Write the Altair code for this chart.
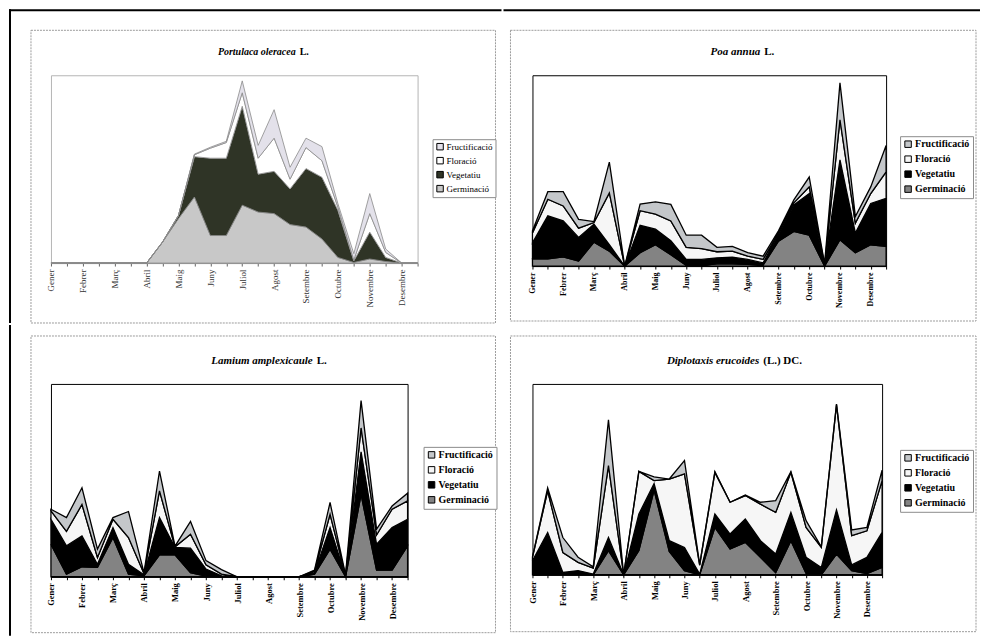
import altair as alt
import pandas as pd

months = ["Gener", "Febrer", "Març", "Abril", "Maig", "Juny", "Juliol",
          "Agost", "Setembre", "Octubre", "Novembre", "Desembre"]
phases_legend = ["Fructificació", "Floració", "Vegetatiu", "Germinació"]
phases_stack = ["Germinació", "Vegetatiu", "Floració", "Fructificació"]

# Portulaca oleracea L.
port_germ = [0, 0, 0, 0, 0, 0, 0, 6.7, 14.2, 21.1, 8.8, 8.8, 18.5, 16.3, 15.8, 12.3, 11.5, 7.7, 1.8, 0.2, 1.3, 0.5, 0, 0]
port_veg = [0, 0, 0, 0, 0, 0, 0, 0, 1.0, 12.9, 24.7, 24.7, 31.6, 12.1, 13.5, 11.4, 18.7, 19.7, 15.1, 0.5, 8.6, 1.3, 0, 0]
port_flo = [0, 0, 0, 0, 0, 0, 0, 0, 0, 0.6, 3.2, 5.0, 4.3, 5.1, 10.6, 3.1, 6.7, 5.3, 1.0, 0.3, 5.9, 1.6, 0, 0]
port_fru = [0, 0, 0, 0, 0, 0, 0, 0, 0, 0.2, 0.3, 0.4, 3.8, 4.1, 9.1, 3.8, 3.0, 4.5, 1.1, 2.0, 6.4, 1.1, 0, 0]

# Poa annua L.
poa_germ = [2.3, 2.3, 2.9, 1.6, 7.5, 4.7, 0, 4.2, 6.7, 3.6, 0.2, 0.2, 0.7, 0.7, 0.5, 0.3, 7.8, 10.9, 9.7, 0, 8.3, 4.2, 6.7, 6.2]
poa_veg = [5.0, 13.5, 11.3, 7.4, 5.7, 2.0, 0, 8.6, 4.9, 4.4, 1.9, 1.9, 1.9, 2.1, 1.6, 0.7, 2.1, 8.3, 13.1, 0.3, 25.1, 6.2, 13.0, 15.1]
poa_flo = [3.1, 5.2, 4.7, 2.9, 0.5, 16.3, 0, 4.6, 4.7, 6.2, 3.8, 3.4, 1.9, 1.9, 1.0, 1.1, 0.5, 0.7, 2.1, 0.2, 12.6, 3.1, 3.1, 8.3]
poa_fru = [0.7, 2.4, 4.5, 2.8, 0.3, 9.7, 0, 2.1, 3.9, 5.2, 3.8, 4.2, 1.4, 1.5, 1.1, 1.0, 0.7, 0.9, 3.1, 0.2, 11.6, 2.1, 2.1, 8.3]

# Lamium amplexicaule L.
lam_germ = [10.1, 0.8, 3.1, 2.9, 12.2, 0.8, 0.3, 6.8, 6.8, 1.3, 0.2, 0, 0, 0, 0, 0, 0, 0.8, 8.6, 0, 25.6, 2.1, 2.1, 9.6]
lam_veg = [7.8, 8.8, 9.6, 1.0, 3.1, 3.1, 0.3, 11.6, 2.3, 7.6, 2.2, 0.3, 0, 0, 0, 0, 0, 0.5, 6.7, 0.2, 13.3, 8.0, 13.2, 8.3]
lam_flo = [2.6, 4.5, 9.8, 2.1, 2.6, 8.3, 0.4, 8.3, 0.2, 4.3, 1.3, 0.5, 0, 0, 0, 0, 0, 0.5, 4.1, 0.2, 7.4, 2.9, 5.7, 5.7]
lam_fru = [0.5, 4.3, 5.2, 2.6, 0.5, 8.1, 0.3, 6.2, 0.2, 4.0, 1.3, 1.4, 0, 0, 0, 0, 0, 0.3, 3.7, 0.2, 8.5, 1.8, 1.0, 2.4]

# Diplotaxis erucoides (L.) DC.
dip_germ = [0, 0.2, 0.2, 0.2, 0, 7.6, 0, 7.6, 26.6, 7.3, 1.3, 0, 14.9, 8.1, 10.2, 5.5, 0.7, 10.7, 0.4, 0, 6.5, 1.3, 0.4, 2.3]
dip_veg = [4.4, 13.1, 0.5, 1.1, 0.2, 4.1, 0, 11.5, 2.1, 3.4, 7.3, 0.2, 4.2, 4.7, 7.3, 5.2, 5.8, 8.9, 5.1, 2.3, 13.9, 1.8, 5.1, 11.0]
dip_flo = [1.1, 13.1, 6.3, 2.6, 1.9, 22.6, 0, 13.4, 0.9, 19.4, 23.1, 2.8, 13.1, 10.0, 7.4, 11.5, 13.1, 12.6, 9.4, 6.3, 33.1, 9.2, 8.3, 16.3]
dip_fru = [0, 0.9, 4.7, 1.6, 0.4, 14.4, 0, 0, 1.2, 0, 4.2, 0.3, 0.2, 0, 0.2, 0.6, 3.7, 0.2, 2.1, 0.2, 0.2, 1.8, 1.1, 3.3]

SERIF = "Liberation Serif"

label_list = []
for m in months:
    label_list += [m, ""]
label_expr = "[" + ",".join("'" + s + "'" for s in label_list) + "][datum.value]"


def long_df(germ, veg, flo, fru):
    rows = []
    for name, vals in zip(phases_stack, [germ, veg, flo, fru]):
        for i, v in enumerate(vals):
            rows.append({"i": i, "fase": name, "ord": phases_stack.index(name), "v": v})
    return pd.DataFrame(rows)


def rule(x, x2, y, y2):
    one = alt.Data(values=[{"k": 1}])
    enc = {"x": alt.value(x), "y": alt.value(y)}
    if x2 is not None:
        enc["x2"] = alt.value(x2)
    if y2 is not None:
        enc["y2"] = alt.value(y2)
    return alt.Chart(one).mark_rule(color="black", strokeWidth=2, strokeCap="square").encode(**enc)


def panel(df, title_it, title_rest, w, h, L, T, R, B, tx, ty, lx, ly,
          colors, label_size, extra=(), p1=False):
    one = alt.Data(values=[{"k": 1}])
    frame = alt.Chart(one).mark_rect(
        fillOpacity=0, stroke="#9c9c9c", strokeWidth=1, strokeDash=[2, 1]
    ).encode(x=alt.value(-L), x2=alt.value(w + R), y=alt.value(-T), y2=alt.value(h + B))

    lab_col = "#333333" if p1 else "black"
    areas = alt.Chart(df).mark_area(
        stroke="#8a8a8a" if p1 else "black",
        strokeWidth=0.8 if p1 else 1.3,
        strokeJoin="miter",
    ).encode(
        x=alt.X("i:Q", scale=alt.Scale(domain=[0, 23], nice=False, zero=False),
                axis=alt.Axis(values=list(range(24)), labelExpr=label_expr,
                              labelAngle=-90, labelFont=SERIF, labelFontSize=label_size,
                              labelFontWeight="normal" if p1 else "bold",
                              labelColor=lab_col, labelFlush=False,
                              labelOverlap=False, labelPadding=3,
                              tickColor="#666666" if p1 else "black", tickSize=3,
                              domainColor="#999999" if p1 else "black",
                              grid=False, title=None)),
        y=alt.Y("v:Q", stack=True, scale=alt.Scale(domain=[0, 60], nice=False), axis=None),
        color=alt.Color("fase:N",
                        scale=alt.Scale(domain=phases_legend, range=colors),
                        legend=alt.Legend(title=None, orient="none", legendX=lx, legendY=ly,
                                          symbolType="square", symbolSize=42,
                                          symbolStrokeColor="black", symbolStrokeWidth=1,
                                          labelFont=SERIF,
                                          labelFontSize=9 if p1 else 10,
                                          labelFontWeight="normal" if p1 else "bold",
                                          labelColor="black", rowPadding=3, padding=3,
                                          strokeColor="#8c8c8c", fillColor="white",
                                          labelOffset=2)),
        order=alt.Order("ord:Q", sort="ascending"),
    )
    t1 = alt.Chart(one).mark_text(
        text=title_it, font=SERIF, fontSize=10 if p1 else 11, fontWeight="bold",
        fontStyle="italic", align="right", baseline="middle", color="black"
    ).encode(x=alt.value(tx), y=alt.value(ty))
    t2 = alt.Chart(one).mark_text(
        text=title_rest, font=SERIF, fontSize=10 if p1 else 11, fontWeight="bold",
        align="left", baseline="middle", color="black"
    ).encode(x=alt.value(tx + 4), y=alt.value(ty))
    return alt.layer(frame, *extra, areas, t1, t2).properties(
        width=w, height=h,
        view=alt.ViewBackground(stroke="#b5b5b5" if p1 else "black", strokeWidth=1),
    )


col_p1 = ["#e3e1ea", "#ffffff", "#2f3426", "#c8c8c8"]
col_bw = ["#c4c7ca", "#f6f6f6", "#000000", "#838383"]

p1 = panel(long_df(port_germ, port_veg, port_flo, port_fru), "Portulaca oleracea", "L.",
           367, 188, 20, 45, 78, 60, 245, -23, 382, 64, col_p1, 9,
           extra=(rule(-41, 450, -65, None), rule(-41, None, -65, 247)), p1=True)
p2 = panel(long_df(poa_germ, poa_veg, poa_flo, poa_fru), "Poa annua", "L.",
           354, 191, 22, 45, 90, 55, 228, -23, 368, 61, col_bw, 8,
           extra=(rule(-28, 447, -65, None),))
p3 = panel(long_df(lam_germ, lam_veg, lam_flo, lam_fru), "Lamium amplexicaule", "L.",
           357, 193, 20, 48, 88, 56, 262, -23, 373, 63, col_bw, 8.5,
           extra=(rule(-41, None, -58, 251),))
p4 = panel(long_df(dip_germ, dip_veg, dip_flo, dip_fru), "Diplotaxis erucoides", "(L.) DC.",
           350, 191, 22, 48, 94, 57, 227, -23, 368, 66, col_bw, 8.5)

chart = alt.concat(p1, p2, p3, p4, columns=2, spacing={"row": 0, "column": 0}).resolve_scale(
    color="independent", y="independent", x="independent"
).resolve_legend(color="independent").properties(
    padding={"left": 0, "top": 0, "right": 0, "bottom": 0},
    background="white",
)

chart.save("out.html", embed_options={"renderer": "svg", "actions": False})
